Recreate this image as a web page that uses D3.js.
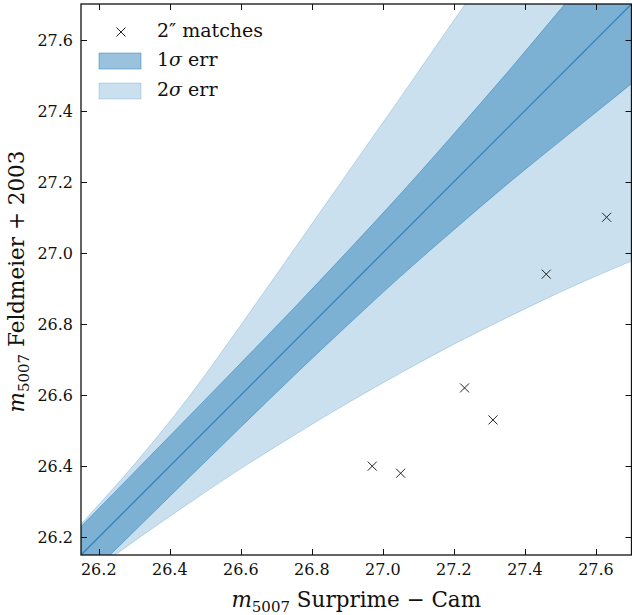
<!DOCTYPE html>
<html>
<head>
<meta charset="utf-8">
<script src="https://cdnjs.cloudflare.com/ajax/libs/d3/7.8.5/d3.min.js"></script>
<style>
  body { margin: 0; background: #fff; }
  text { font-family: "DejaVu Serif", serif; fill: #111; }
</style>
</head>
<body>
<div id="chart-container"></div>
<script>
// values
var bandX    = [26.15, 26.30, 26.45, 26.60, 26.75, 26.90, 27.05, 27.20, 27.35, 27.50, 27.70];
var sig1Hi   = [26.230, 26.383, 26.536, 26.690, 26.845, 27.004, 27.166, 27.335, 27.507, 27.685, 27.924];
var sig1Lo   = [26.070, 26.217, 26.364, 26.510, 26.655, 26.796, 26.934, 27.065, 27.193, 27.315, 27.476];
var sig2Hi   = [26.237, 26.405, 26.590, 26.797, 27.010, 27.224, 27.438, 27.654, 27.870, 28.090, 28.380];
var sig2Lo   = [26.080, 26.189, 26.293, 26.393, 26.487, 26.577, 26.662, 26.743, 26.818, 26.890, 26.977];

// one-to-one line
var lineX = [26.15, 27.70];
var lineY = [26.15, 27.70];

// 2" matches
var matchX = [26.97, 27.05, 27.23, 27.31, 27.46, 27.63];
var matchY = [26.40, 26.38, 26.62, 26.53, 26.94, 27.10];

var tickVals = [26.2, 26.4, 26.6, 26.8, 27.0, 27.2, 27.4, 27.6];

var width = 632;
var height = 615;
var margin = { top: 4, right: 0.5, bottom: 60, left: 81 };
var blue = '#1f77b4';

var svg = d3.select('#chart-container').append('svg')
  .attr('width', width)
  .attr('height', height);

var xScale = d3.scaleLinear()
  .domain([26.15, 27.70])
  .range([margin.left, width - margin.right]);

var yScale = d3.scaleLinear()
  .domain([26.15, 27.70])
  .range([height - margin.bottom, margin.top]);

var plotW = xScale.range()[1] - xScale.range()[0];
var plotH = yScale.range()[0] - yScale.range()[1];

svg.append('clipPath').attr('id', 'plot-clip')
  .append('rect')
    .attr('x', margin.left)
    .attr('y', margin.top)
    .attr('width', plotW)
    .attr('height', plotH);

var plot = svg.append('g').attr('clip-path', 'url(#plot-clip)');

function bandRows(lo, hi) {
  return bandX.map(function(x, i) { return { x: x, lo: lo[i], hi: hi[i] }; });
}

var area = d3.area()
  .x(function(d) { return xScale(d.x); })
  .y0(function(d) { return yScale(d.lo); })
  .y1(function(d) { return yScale(d.hi); })
  .curve(d3.curveMonotoneX);

// 2 sigma goes underneath, 1 sigma on top (alpha stacks like matplotlib)
plot.append('path')
  .datum(bandRows(sig2Lo, sig2Hi))
  .attr('d', area)
  .attr('fill', blue).attr('fill-opacity', 0.23)
  .attr('stroke', blue).attr('stroke-opacity', 0.23);

plot.append('path')
  .datum(bandRows(sig1Lo, sig1Hi))
  .attr('d', area)
  .attr('fill', blue).attr('fill-opacity', 0.45)
  .attr('stroke', blue).attr('stroke-opacity', 0.45);

var line = d3.line()
  .x(function(d) { return xScale(d[0]); })
  .y(function(d) { return yScale(d[1]); });

plot.append('path')
  .datum(d3.zip(lineX, lineY))
  .attr('d', line)
  .attr('fill', 'none')
  .attr('stroke', blue)
  .attr('stroke-opacity', 0.8)
  .attr('stroke-width', 1.3);

var crossPath = 'M-4.5,-4.5L4.5,4.5M-4.5,4.5L4.5,-4.5';

plot.selectAll('.match')
  .data(d3.zip(matchX, matchY))
  .enter().append('path')
    .attr('class', 'match')
    .attr('transform', function(d) { return 'translate(' + xScale(d[0]) + ',' + yScale(d[1]) + ')'; })
    .attr('d', crossPath)
    .attr('fill', 'none')
    .attr('stroke', '#222')
    .attr('stroke-width', 1);

// axes: ticks point inwards on all four sides
var tickLen = 6;
var x0 = xScale.range()[0], x1 = xScale.range()[1];
var yB = yScale.range()[0], yT = yScale.range()[1];

var axes = svg.append('g').attr('stroke', '#111').attr('stroke-width', 1);

tickVals.forEach(function(v) {
  var px = Math.round(xScale(v)) + 0.5;
  var py = Math.round(yScale(v)) + 0.5;
  axes.append('line').attr('x1', px).attr('x2', px).attr('y1', yB).attr('y2', yB - tickLen);
  axes.append('line').attr('x1', px).attr('x2', px).attr('y1', yT).attr('y2', yT + tickLen);
  axes.append('line').attr('x1', x0).attr('x2', x0 + tickLen).attr('y1', py).attr('y2', py);
  axes.append('line').attr('x1', x1).attr('x2', x1 - tickLen).attr('y1', py).attr('y2', py);
});

svg.append('rect')
  .attr('x', x0).attr('y', yT)
  .attr('width', plotW).attr('height', plotH)
  .attr('fill', 'none')
  .attr('stroke', '#111')
  .attr('stroke-width', 1.3);

var fmt = d3.format('.1f');

svg.selectAll('.xtick')
  .data(tickVals)
  .enter().append('text')
    .attr('class', 'xtick')
    .attr('x', function(d) { return xScale(d); })
    .attr('y', yB + 20)
    .attr('text-anchor', 'middle')
    .attr('font-size', 16)
    .text(fmt);

svg.selectAll('.ytick')
  .data(tickVals)
  .enter().append('text')
    .attr('class', 'ytick')
    .attr('x', x0 - 8)
    .attr('y', function(d) { return yScale(d) + 6; })
    .attr('text-anchor', 'end')
    .attr('font-size', 16)
    .text(fmt);

// axis titles
function mathLabel(sel, rest) {
  sel.append('tspan').attr('font-style', 'italic').text('m');
  sel.append('tspan').attr('font-size', 15).attr('dy', 5).text('5007');
  sel.append('tspan').attr('dy', -5).text(' ' + rest);
}

var xTitle = svg.append('text')
  .attr('transform', 'translate(' + ((x0 + x1) / 2) + ',' + 607 + ')')
  .attr('text-anchor', 'middle')
  .attr('font-size', 21.5);
mathLabel(xTitle, 'Surprime \u2212 Cam');

var yTitle = svg.append('text')
  .attr('transform', 'translate(24,' + ((yB + yT) / 2 + 2) + ') rotate(-90)')
  .attr('text-anchor', 'middle')
  .attr('font-size', 21.5);
mathLabel(yTitle, 'Feldmeier + 2003');

// legend, no frame
var legend = svg.append('g').attr('font-size', 19);

legend.append('path')
  .attr('transform', 'translate(121,32)')
  .attr('d', crossPath)
  .attr('fill', 'none')
  .attr('stroke', '#222');
legend.append('text').attr('x', 157).attr('y', 37).text('2\u2033 matches');

var legendBands = [
  { y: 53, alpha: 0.45, label: '1' },
  { y: 83, alpha: 0.23, label: '2' }
];

legendBands.forEach(function(b) {
  legend.append('rect')
    .attr('x', 99).attr('y', b.y)
    .attr('width', 42).attr('height', 16)
    .attr('fill', blue).attr('fill-opacity', b.alpha)
    .attr('stroke', blue).attr('stroke-opacity', b.alpha);
  var t = legend.append('text').attr('x', 157).attr('y', b.y + 13);
  t.append('tspan').text(b.label);
  t.append('tspan').attr('font-style', 'italic').text('\u03c3');
  t.append('tspan').text(' err');
});
</script>
</body>
</html>
